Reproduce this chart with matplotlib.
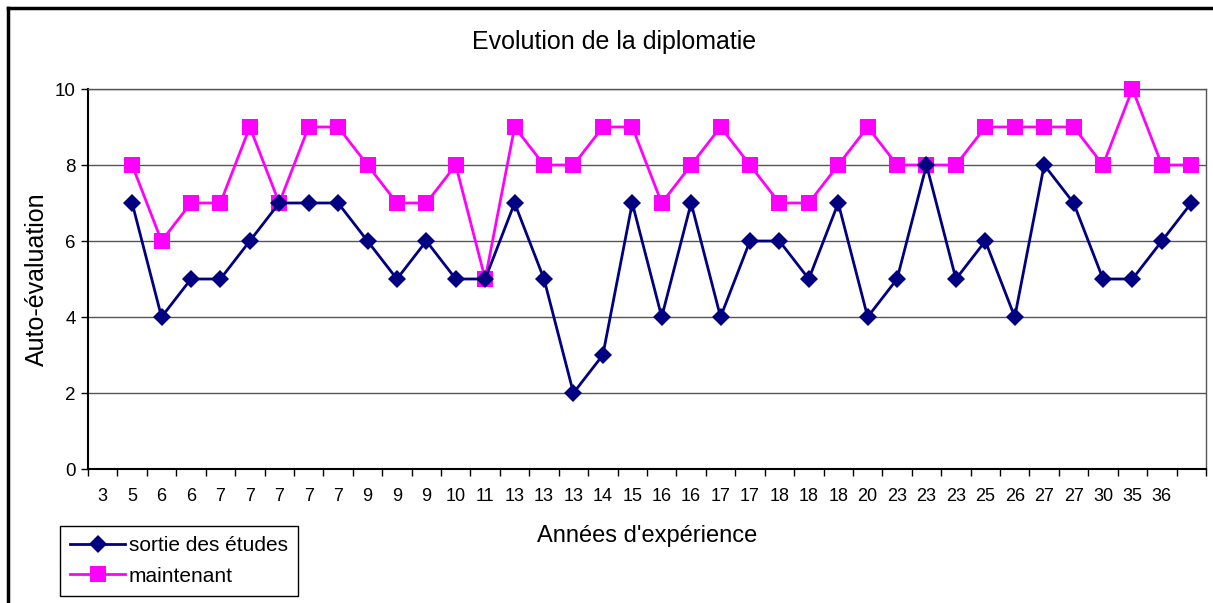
import matplotlib
matplotlib.use("Agg")
import matplotlib.pyplot as plt
from matplotlib.lines import Line2D

plt.rcParams['font.family'] = ['Liberation Sans', 'DejaVu Sans']

# Données
annees = ['3', '5', '6', '6', '7', '7', '7', '7', '7', '9', '9', '9', '10', '11',
          '13', '13', '13', '14', '15', '16', '16', '17', '17', '18', '18', '18',
          '20', '23', '23', '23', '25', '26', '27', '27', '30', '35', '36']
sortie = [7, 4, 5, 5, 6, 7, 7, 7, 6, 5, 6, 5, 5, 7, 5, 2, 3, 7, 4, 7, 4, 6, 6,
          5, 7, 4, 5, 8, 5, 6, 4, 8, 7, 5, 5, 6, 7]
maintenant = [8, 6, 7, 7, 9, 7, 9, 9, 8, 7, 7, 8, 5, 9, 8, 8, 9, 9, 7, 8, 9, 8,
              7, 7, 8, 9, 8, 8, 8, 9, 9, 9, 9, 8, 10, 8, 8]

n_cat = len(annees) + 1  # une catégorie de plus que d'étiquettes
x_data = list(range(1, len(sortie) + 1))

fig = plt.figure(figsize=(12.13, 6.03), dpi=100)
W, H = 1213, 603
ax = fig.add_axes([88 / W, (H - 469) / H, (1206 - 88) / W, (469 - 89) / H])

ax.plot(x_data, maintenant, color='#FF00FF', lw=2, marker='s', markersize=11,
        markeredgewidth=0, zorder=3, clip_on=False)
ax.plot(x_data, sortie, color='#000080', lw=2, marker='D', markersize=9,
        markeredgewidth=0, zorder=4, clip_on=False)

ax.set_xlim(-0.5, n_cat - 0.5)
ax.set_ylim(0, 10)
ax.set_yticks([0, 2, 4, 6, 8, 10])
ax.yaxis.grid(True, color='#555555', lw=1)
ax.set_axisbelow(True)

ax.set_xticks([k - 0.5 for k in range(n_cat + 1)])
ax.set_xticklabels([])
ax.set_xticks(list(range(len(annees))), minor=True)
ax.set_xticklabels(annees, minor=True)
ax.tick_params(axis='x', which='major', direction='out', length=5, width=1)
ax.tick_params(axis='x', which='minor', length=0, pad=14, labelsize=13)
ax.tick_params(axis='y', direction='out', length=5, width=1, labelsize=13.5, pad=4)

for s in ['top', 'right']:
    ax.spines[s].set_color('#555555')
    ax.spines[s].set_linewidth(1)
for s in ['left', 'bottom']:
    ax.spines[s].set_color('black')
    ax.spines[s].set_linewidth(1.5)

ax.set_xlabel("Années d'expérience", fontsize=17, labelpad=14)
ax.set_ylabel('Auto-évaluation', fontsize=18, va='center')
ax.yaxis.set_label_coords((37 - 88) / 1118, 0.5)
fig.text(614 / W, 1 - 42 / H, 'Evolution de la diplomatie', fontsize=18,
         ha='center', va='center')

handles = [Line2D([], [], color='#000080', lw=2, marker='D', markersize=9, markeredgewidth=0),
           Line2D([], [], color='#FF00FF', lw=2, marker='s', markersize=11, markeredgewidth=0)]
leg = fig.legend(handles, ['sortie des études', 'maintenant'], loc='lower left',
                 bbox_to_anchor=(60 / W, (H - 596) / H), fontsize=15,
                 frameon=True, fancybox=False, edgecolor='black', framealpha=1,
                 borderpad=0.5, handlelength=2.6, handletextpad=0.2,
                 labelspacing=0.55, borderaxespad=0)
leg.get_frame().set_linewidth(1)

# cadre extérieur (gauche et haut)
fig.add_artist(Line2D([8 / W, 8 / W], [0, 1 - 8 / H], color='black', lw=2.5,
                      transform=fig.transFigure))
fig.add_artist(Line2D([8 / W, 1], [1 - 8 / H, 1 - 8 / H], color='black', lw=2.5,
                      transform=fig.transFigure))

fig.savefig('out.png', dpi=100)
